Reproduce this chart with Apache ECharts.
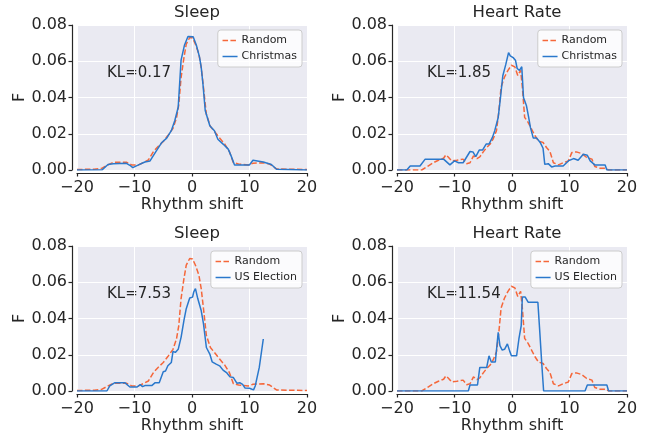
<!DOCTYPE html>
<html>
<head>
<meta charset="utf-8">
<script src="https://cdn.jsdelivr.net/npm/echarts@6/dist/echarts.min.js"></script>
<style>
html,body{margin:0;padding:0;background:#fff;}
#chart{width:652px;height:438px;}
</style>
</head>
<body>
<div id="chart"></div>
<script>
// ---- data ----
const panelTitles = ['Sleep', 'Heart Rate', 'Sleep', 'Heart Rate'];
const klLabels = ['KL=0.17', 'KL=1.85', 'KL=7.53', 'KL=11.54'];
const otherNames = ['Christmas', 'Christmas', 'US Election', 'US Election'];
const xTicks = [-20, -10, 0, 10, 20];
const yTicks = [0, 0.02, 0.04, 0.06, 0.08];
const xLabel = 'Rhythm shift';
const yLabel = 'F';

const sleepRandom = [[-20,0.0003],[-17,0.0004],[-15.8,0.0008],[-14.6,0.0028],[-13.7,0.0042],[-11.4,0.0043],[-10.5,0.0028],[-9.3,0.0028],[-8.5,0.004],[-7.6,0.0055],[-6.7,0.0102],[-5.9,0.013],[-5.0,0.0157],[-4.2,0.019],[-3.3,0.023],[-2.7,0.0287],[-2.3,0.036],[-1.9,0.051],[-1.4,0.062],[-1.0,0.0694],[-0.4,0.0731],[0.1,0.0728],[0.6,0.0694],[1.2,0.0639],[1.6,0.0565],[2.0,0.0454],[2.5,0.0306],[3.2,0.024],[3.9,0.0213],[4.8,0.0176],[5.7,0.0143],[6.5,0.0102],[7.2,0.004],[8.1,0.0033],[9.8,0.0028],[10.6,0.0037],[12.4,0.004],[13.5,0.0033],[14.7,0.0006],[16.4,0.0004],[20,0.0003]];

const sleepChristmas = [[-20,0],[-15.6,0.0002],[-14.6,0.0030],[-13.7,0.0035],[-11.4,0.0037],[-10.8,0.0026],[-10.3,0.0013],[-9.3,0.0028],[-8.2,0.0044],[-7.3,0.0050],[-6.2,0.0105],[-5.3,0.0150],[-4.4,0.0176],[-3.6,0.0217],[-3.0,0.0272],[-2.4,0.0346],[-1.9,0.0606],[-1.3,0.0690],[-0.7,0.0737],[0.2,0.0735],[0.75,0.069],[1.3,0.0624],[1.6,0.0568],[1.9,0.0476],[2.3,0.0328],[3.1,0.0244],[3.9,0.0217],[4.5,0.017],[5.4,0.0143],[6.3,0.0115],[6.8,0.0078],[7.4,0.0028],[10.0,0.0028],[10.6,0.0054],[12.4,0.0044],[13.8,0.0030],[14.7,0.0004],[20,0]];

const sleepElection = [[-20,0],[-14.8,0],[-14.3,0.0028],[-13.4,0.0046],[-11.7,0.0046],[-10.8,0.0022],[-9.6,0.0022],[-9.0,0.0035],[-8.6,0.0024],[-8.2,0.003],[-7.0,0.003],[-6.4,0.0046],[-5.7,0.0046],[-5.0,0.0106],[-4.6,0.011],[-4.2,0.0139],[-3.6,0.0157],[-3.3,0.0219],[-2.9,0.0213],[-2.4,0.023],[-1.9,0.0296],[-1.4,0.039],[-1.0,0.0454],[-0.4,0.0513],[0.1,0.0518],[0.3,0.0546],[0.6,0.0565],[1.0,0.051],[1.6,0.0444],[2.0,0.037],[2.5,0.024],[3.1,0.0204],[3.5,0.0161],[4.2,0.0148],[4.8,0.0139],[5.4,0.0115],[6.0,0.0102],[6.6,0.0078],[7.2,0.0074],[7.8,0.0043],[8.3,0.0046],[8.8,0.0037],[9.2,0.0017],[10.0,0.0015],[10.7,0.0006],[11.0,0.0028],[11.7,0.013],[12.4,0.0287]];

const hrRandom = [[-20,0],[-15.7,0],[-15.4,0.0004],[-14.6,0.0022],[-13.7,0.004],[-12.8,0.0054],[-11.9,0.0065],[-11.5,0.0083],[-11.1,0.0072],[-10.5,0.005],[-9.6,0.0054],[-8.5,0.006],[-7.9,0.0035],[-7.3,0.004],[-6.7,0.0078],[-6.1,0.0063],[-5.6,0.0072],[-5.0,0.01],[-4.4,0.0124],[-3.8,0.0143],[-3.3,0.017],[-2.7,0.0217],[-2.3,0.0319],[-1.9,0.0457],[-1.3,0.0513],[-0.7,0.055],[-0.1,0.0578],[0.5,0.0569],[1.0,0.0522],[1.5,0.055],[1.8,0.0457],[2.2,0.029],[2.8,0.0263],[3.4,0.0226],[4.0,0.0189],[4.6,0.016],[5.4,0.0152],[6.0,0.0124],[6.6,0.0102],[7.2,0.004],[8.1,0.0028],[8.9,0.004],[9.8,0.005],[10.4,0.0096],[11.2,0.01],[12.1,0.0091],[13.0,0.0069],[13.9,0.006],[14.4,0.0019],[15.3,0.001],[16.2,0.001],[16.8,0],[20,0]];

const hrChristmas = [[-20,0],[-18.3,0],[-17.7,0.0022],[-16.0,0.0022],[-15.1,0.006],[-11.9,0.006],[-10.8,0.0028],[-10.0,0.005],[-9.3,0.004],[-8.5,0.004],[-7.3,0.0102],[-6.8,0.01],[-6.3,0.0074],[-5.7,0.011],[-5.1,0.0111],[-4.5,0.0143],[-4.0,0.0143],[-3.4,0.018],[-3.0,0.0217],[-2.4,0.029],[-2.0,0.040],[-1.6,0.052],[-1.1,0.058],[-0.6,0.0648],[-0.3,0.063],[0.2,0.062],[0.6,0.0606],[0.9,0.056],[1.3,0.055],[1.7,0.057],[2.0,0.040],[2.5,0.0356],[2.9,0.029],[3.2,0.0235],[3.7,0.0176],[4.3,0.0176],[4.9,0.0152],[5.4,0.012],[5.7,0.0031],[6.3,0.0035],[6.9,0.0017],[7.5,0.0022],[8.9,0.0022],[9.8,0.005],[10.7,0.0063],[11.5,0.0054],[12.4,0.0087],[13.1,0.0081],[13.6,0.005],[14.4,0.0028],[16.2,0.0028],[16.5,0],[20,0]];

const hrElection = [[-20,0],[-7.6,0],[-7.3,0.0033],[-6.0,0.0033],[-5.6,0.013],[-4.4,0.013],[-4.0,0.0194],[-3.6,0.016],[-2.9,0.016],[-2.4,0.0324],[-2.1,0.025],[-1.7,0.0226],[-1.3,0.023],[-0.8,0.026],[-0.4,0.022],[-0.1,0.0194],[0.8,0.0194],[1.2,0.0287],[1.6,0.036],[1.8,0.0518],[2.3,0.0518],[2.8,0.049],[4.5,0.049],[4.8,0.0343],[5.2,0.0139],[5.5,0],[12.7,0],[13.1,0.0033],[16.5,0.0033],[16.8,0],[20,0]];

const randomSeries = [sleepRandom, hrRandom, sleepRandom, hrRandom];
const otherSeries = [sleepChristmas, hrChristmas, sleepElection, hrElection];

// ---- layout / style ----
const FONT = 'DejaVu Sans';
const TXT = '#262626';
const ORANGE = '#f5673a';
const BLUE = '#2a78cc';
const lefts = [77, 397, 77, 397];
const tops = [25, 25, 246, 246];
const W = 230, H = 145;

const fmtX = v => (v < 0 ? '\u2212' + Math.abs(v) : String(v));
const fmtY = v => v.toFixed(2);

const option = {
  animation: false,
  backgroundColor: '#fff',
  title: [], grid: [], xAxis: [], yAxis: [], series: [], legend: [], graphic: []
};

for (let i = 0; i < 4; i++) {
  option.grid.push({left: lefts[i], top: tops[i], width: W, height: H, show: true,
    backgroundColor: '#eaeaf2', borderWidth: 0, containLabel: false});
  option.title.push({text: panelTitles[i], left: lefts[i] + W / 2, top: tops[i] - 26, textAlign: 'center',
    textStyle: {fontFamily: FONT, fontSize: 16.5, fontWeight: 'normal', color: TXT}});
  option.xAxis.push({type: 'value', gridIndex: i, min: xTicks[0], max: xTicks[xTicks.length - 1], interval: 10,
    offset: 3,
    name: xLabel, nameLocation: 'middle', nameGap: 24,
    nameTextStyle: {fontFamily: FONT, fontSize: 16, color: TXT},
    axisLine: {show: true, onZero: false, lineStyle: {color: TXT, width: 1.2}},
    axisTick: {show: true, length: 3.5, lineStyle: {color: TXT, width: 1.2}},
    axisLabel: {fontFamily: FONT, fontSize: 16, color: TXT, margin: 7, formatter: fmtX},
    splitLine: {show: true, lineStyle: {color: '#ffffff', width: 1}}
  });
  option.yAxis.push({type: 'value', gridIndex: i, min: yTicks[0], max: yTicks[yTicks.length - 1], interval: 0.02,
    offset: 5,
    name: yLabel, nameLocation: 'middle', nameGap: 42,
    nameTextStyle: {fontFamily: FONT, fontSize: 16, color: TXT},
    axisLine: {show: true, onZero: false, lineStyle: {color: TXT, width: 1.2}},
    axisTick: {show: true, length: 3.5, lineStyle: {color: TXT, width: 1.2}},
    axisLabel: {fontFamily: FONT, fontSize: 16, color: TXT, margin: 5, formatter: fmtY},
    splitLine: {show: true, lineStyle: {color: '#ffffff', width: 1}}
  });
  option.series.push({type: 'line', name: 'Random', xAxisIndex: i, yAxisIndex: i, data: randomSeries[i],
    symbol: 'none', lineStyle: {color: ORANGE, width: 1.5, type: [5.5, 2.4]}, itemStyle: {color: ORANGE}, z: 2});
  option.series.push({type: 'line', name: otherNames[i], xAxisIndex: i, yAxisIndex: i, data: otherSeries[i],
    symbol: 'none', lineStyle: {color: BLUE, width: 1.5}, itemStyle: {color: BLUE}, z: 3});
  option.legend.push({data: ['Random', otherNames[i]], orient: 'vertical',
    right: 652 - (lefts[i] + W) + 5, top: tops[i] + 5,
    backgroundColor: 'rgba(255,255,255,0.8)', borderColor: '#cccccc', borderWidth: 1, borderRadius: 3,
    padding: [5, 5, 5, 4], itemGap: 5, itemWidth: 15, itemHeight: 10,
    itemStyle: {opacity: 0},
    lineStyle: {width: 1.5},
    textStyle: {fontFamily: FONT, fontSize: 11, color: TXT, padding: [0, 0, 0, -1]},
    selectedMode: false});
  option.graphic.push({type: 'text', left: lefts[i] + 30, top: tops[i] + 41,
    style: {text: klLabels[i], font: '15px "DejaVu Sans"', fill: TXT}});
}

const chart = echarts.init(document.getElementById('chart'), null, {renderer: 'canvas'});
chart.setOption(option);
</script>
</body>
</html>
